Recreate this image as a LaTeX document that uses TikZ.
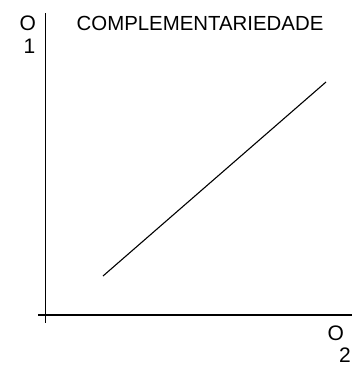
\documentclass[tikz,border=0pt]{standalone}
\usepackage{fontspec}
\setmainfont{Liberation Sans}
\begin{document}
\begin{tikzpicture}[x=1pt, y=-1pt,
        lbl/.style = {inner sep = 0pt, font = \fontsize{21}{21}\selectfont},
        ttl/.style = {inner sep = 0pt, font = \fontsize{20.4}{20.4}\selectfont}]
        \useasboundingbox (0, 0) rectangle (352, 367);
        % axes
        \coordinate (ytop) at (45.5, 13);
        \coordinate (ybot) at (45.5, 323);
        \coordinate (xleft) at (38, 315);
        \coordinate (xright) at (352, 315);
        \draw[line width = 1.4pt] (ytop) -- (ybot);
        \draw[line width = 1.4pt] (xleft) -- (xright);
        % line
        \coordinate (p) at (103, 276);
        \coordinate (q) at (326, 82);
        \draw[line width = 1.1pt] (p) -- (q);
        % labels
        \node[lbl, anchor = base west] (o1) at (19.5, 30.5) {O};
        \node[lbl, anchor = base east] (n1) at (35.5, 53) {1};
        \node[ttl, anchor = base west] (title) at (76.5, 30.5) {COMPLEMENTARIEDADE};
        \node[lbl, anchor = base west] (o2) at (327.5, 340) {O};
        \node[lbl, anchor = base east] (n2) at (351, 362) {2};
    \end{tikzpicture}
\end{document}
